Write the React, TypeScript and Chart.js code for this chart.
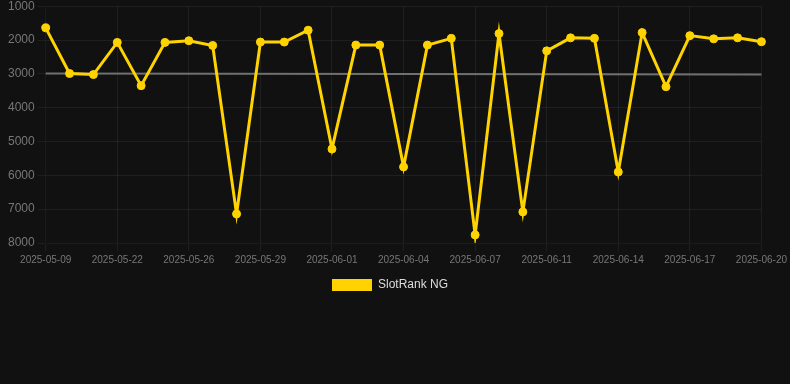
import React, { useEffect, useRef } from "react";
import { Chart, registerables } from "chart.js";

Chart.register(...registerables);

const labels = [
  "2025-05-09", "2025-05-13", "2025-05-18",
  "2025-05-22", "2025-05-23", "2025-05-24",
  "2025-05-26", "2025-05-27", "2025-05-28",
  "2025-05-29", "2025-05-30", "2025-05-31",
  "2025-06-01", "2025-06-02", "2025-06-03",
  "2025-06-04", "2025-06-05", "2025-06-06",
  "2025-06-07", "2025-06-08", "2025-06-10",
  "2025-06-11", "2025-06-12", "2025-06-13",
  "2025-06-14", "2025-06-15", "2025-06-16",
  "2025-06-17", "2025-06-18", "2025-06-19",
  "2025-06-20",
];

const slotRank = [
  1640, 2990, 3020, 2070, 3350, 2070, 2020, 2160, 7140, 2060,
  2060, 1710, 5220, 2150, 2150, 5750, 2150, 1950, 7760, 1810,
  7080, 2320, 1935, 1950, 5900, 1780, 3380, 1870, 1965, 1935,
  2050,
];

const trendStart = 2990;
const trendEnd = 3020;

const yMin = 1000;
const yMax = 8000;

export default function App() {
  const ref = useRef<HTMLCanvasElement>(null);

  useEffect(() => {
    document.body.style.margin = "0";
    document.body.style.background = "#111111";
    const ctx = ref.current!;
    const chart = new Chart(ctx, {
      type: "line",
      data: {
        labels,
        datasets: [
          {
            label: "SlotRank NG",
            data: slotRank,
            borderColor: "#FFD300",
            backgroundColor: "#FFD300",
            borderWidth: 3,
            pointRadius: 4,
            pointBorderWidth: 1,
            pointBackgroundColor: "#FFD300",
            pointBorderColor: "#FFD300",
            tension: 0,
            order: 1,
          },
          {
            label: "trend",
            data: [
              { x: labels[0], y: trendStart },
              { x: labels[labels.length - 1], y: trendEnd },
            ] as any,
            borderColor: "#707070",
            backgroundColor: "#707070",
            borderWidth: 2,
            pointRadius: 0,
            order: 2,
          },
        ],
      },
      options: {
        animation: false,
        responsive: true,
        maintainAspectRatio: false,
        layout: { padding: { left: 5, right: 15, top: 0, bottom: 0 } },
        plugins: {
          legend: {
            position: "bottom",
            labels: {
              color: "#dddddd",
              font: { size: 12, family: "Liberation Sans, Arial, sans-serif" },
              boxWidth: 40,
              boxHeight: 12,
              generateLabels: (c: any) =>
                Chart.defaults.plugins.legend.labels
                  .generateLabels(c)
                  .filter((it: any) => it.text !== "trend")
                  .map((it: any) => ({ ...it, lineWidth: 0 })),
            },
          },
          tooltip: { enabled: false },
        },
        scales: {
          x: {
            ticks: {
              color: "#777777",
              font: { size: 10, family: "Liberation Sans, Arial, sans-serif" },
              autoSkip: false,
              maxRotation: 0,
              callback: (_v, i) => (i % 3 === 0 ? labels[i] : ""),
            },
            grid: {
              color: (c: any) =>
                c.index % 3 === 0 ? "rgba(255,255,255,0.06)" : "rgba(0,0,0,0)",
            },
          },
          y: {
            reverse: true,
            min: yMin,
            max: yMax,
            ticks: {
              stepSize: 1000,
              color: "#777777",
              font: { size: 12, family: "Liberation Sans, Arial, sans-serif" },
              callback: (v) => String(v),
            },
            grid: { color: "rgba(255,255,255,0.06)" },
          },
        },
      },
    });
    return () => chart.destroy();
  }, []);

  return (
    <div style={{ width: 790, height: 301, overflow: "hidden" }}>
      <div style={{ width: 790, height: 305, marginTop: -4, position: "relative", background: "#111111" }}>
        <canvas ref={ref} />
      </div>
    </div>
  );
}
